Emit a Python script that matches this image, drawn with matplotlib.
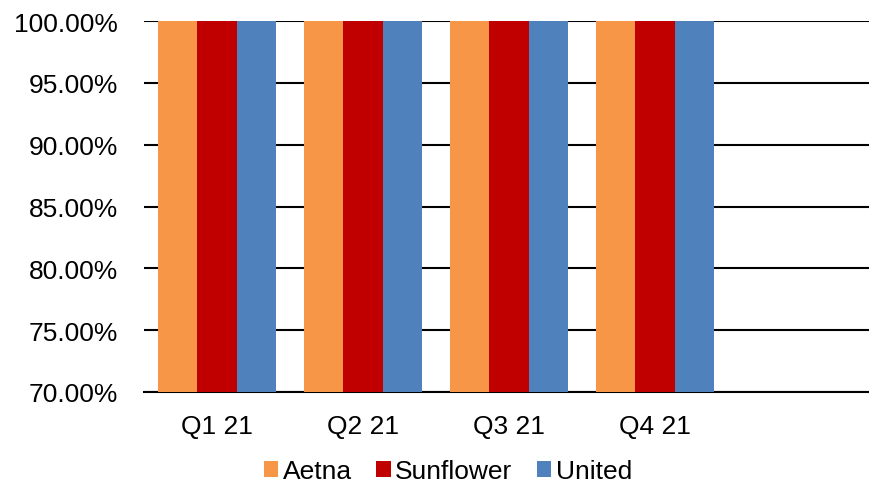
import numpy as np
import matplotlib.pyplot as plt
from matplotlib.ticker import PercentFormatter

plt.rcParams['font.family'] = ['Liberation Sans', 'DejaVu Sans']

quarters = ["Q1 21", "Q2 21", "Q3 21", "Q4 21", ""]
aetna = [1.0, 1.0, 1.0, 1.0, np.nan]
sunflower = [1.0, 1.0, 1.0, 1.0, np.nan]
united = [1.0, 1.0, 1.0, 1.0, np.nan]

series = [("Aetna", aetna, "#F79646"),
          ("Sunflower", sunflower, "#C00000"),
          ("United", united, "#4F81BD")]

fig = plt.figure(figsize=(8.69, 4.85), dpi=100)
# plot area runs slightly past the right edge of the figure
ax = fig.add_axes([144 / 869, 1 - 393 / 485, 730 / 869, (393 - 22) / 485])

x = np.arange(len(quarters))
w = 0.27
for i, (name, vals, col) in enumerate(series):
    ax.bar(x + (i - 1) * w, vals, w, color=col, label=name, zorder=3)

ax.set_xlim(-0.5, len(quarters) - 0.5)
ax.set_ylim(0.70, 1.00)
ax.set_yticks(np.arange(0.70, 1.001, 0.05))
ax.yaxis.set_major_formatter(PercentFormatter(1.0, decimals=2))
ax.set_xticks(x)
ax.set_xticklabels(quarters)
ax.grid(axis='y', color='black', linewidth=1.5, zorder=0)
for s in ['top', 'right', 'left']:
    ax.spines[s].set_visible(False)
ax.spines['bottom'].set_linewidth(1.5)
ax.tick_params(axis='both', length=0, labelsize=19)
ax.tick_params(axis='y', pad=18.5)
ax.tick_params(axis='x', pad=16)

fig.legend(loc='center', bbox_to_anchor=(448 / 869, 1 - 472 / 485), ncol=3, frameon=False,
           fontsize=19, handlelength=0.55, handleheight=0.55, handletextpad=0.17,
           columnspacing=0.92)

fig.savefig("out.png", dpi=100)
